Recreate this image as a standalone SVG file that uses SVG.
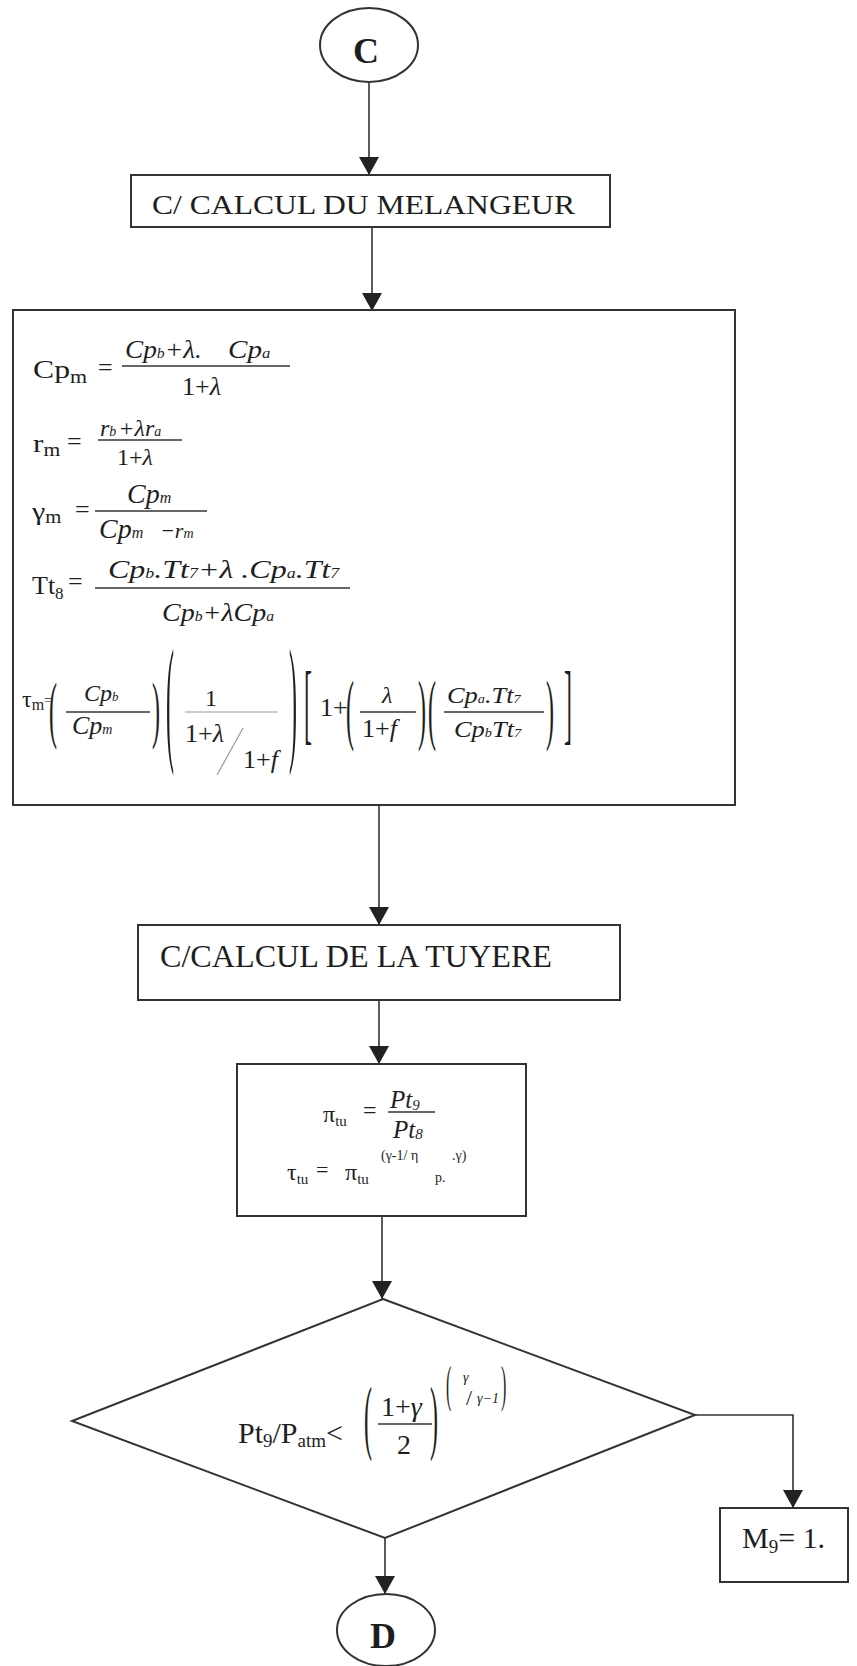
<svg xmlns="http://www.w3.org/2000/svg" width="857" height="1666" viewBox="0 0 857 1666" font-family="'Liberation Serif', 'DejaVu Serif', serif">
<style>
.t{font-family:"Liberation Serif","DejaVu Serif",serif;fill:#1e1e1e}
.i{font-style:italic}
.b{font-weight:bold}
.box{fill:#fff;stroke:#333;stroke-width:2}
.bar{stroke:#333;stroke-width:1.3}
.gbar{stroke:#9a9a9a;stroke-width:1.2}
.con{fill:none;stroke:#333;stroke-width:1.6}
</style>
<defs>
<marker id="ah" viewBox="0 0 18 20" markerWidth="18" markerHeight="20" refX="18" refY="10" orient="auto" markerUnits="userSpaceOnUse">
<path d="M0,0 L18,10 L0,20 z" fill="#222"/>
</marker>
</defs>
<rect width="857" height="1666" fill="#fff"/>

<g id="connectors">
<path class="con" d="M369,82 V175" marker-end="url(#ah)"/>
<path class="con" d="M372,227 V311" marker-end="url(#ah)"/>
<path class="con" d="M379,805 V925" marker-end="url(#ah)"/>
<path class="con" d="M379,1000 V1064" marker-end="url(#ah)"/>
<path class="con" d="M382,1216 V1299" marker-end="url(#ah)"/>
<path class="con" d="M695,1415 H793 V1508" marker-end="url(#ah)"/>
<path class="con" d="M385,1538 V1594" marker-end="url(#ah)"/>
</g>

<g id="start-C">
<ellipse class="box" cx="369" cy="45" rx="49" ry="37" stroke-width="1.6"/>
<text class="t b" x="366" y="63" font-size="36" text-anchor="middle">C</text>
</g>

<g id="melangeur-title">
<rect class="box" x="131" y="175" width="479" height="52"/>
<text class="t" x="152" y="214" font-size="28" textLength="423" lengthAdjust="spacingAndGlyphs">C/ CALCUL DU MELANGEUR</text>
</g>

<g id="melangeur-formulas">
<rect class="box" x="13" y="310" width="722" height="495"/>
<!-- Cp_m -->
<text class="t" transform="translate(33,378) scale(1.22,1)" font-size="26">Cp<tspan font-size="18" dy="5">m</tspan></text>
<text class="t" x="98" y="376" font-size="26">=</text>
<text class="t i" transform="translate(125,358) scale(1.05,1)" font-size="26">Cp<tspan font-size="15">b</tspan><tspan>+λ.</tspan></text>
<text class="t i" transform="translate(228,358) scale(1.12,1)" font-size="26">Cp<tspan font-size="15">a</tspan></text>
<line class="bar" x1="122" y1="366" x2="290" y2="366"/>
<text class="t" x="182" y="395" font-size="26">1+<tspan class="i">λ</tspan></text>
<!-- r_m -->
<text class="t" transform="translate(33,452) scale(1.2,1)" font-size="26">r<tspan font-size="18" dy="4">m</tspan></text>
<text class="t" x="67" y="450" font-size="26">=</text>
<text class="t i" x="100" y="436" font-size="24">r<tspan font-size="14">b</tspan><tspan dx="2">+</tspan><tspan>λr</tspan><tspan font-size="14">a</tspan></text>
<line class="bar" x1="98" y1="440" x2="182" y2="440"/>
<text class="t" x="117" y="465" font-size="24">1+<tspan class="i">λ</tspan></text>
<!-- gamma_m -->
<text class="t" transform="translate(32,520) scale(1.15,1)" font-size="26">γ<tspan font-size="18" dy="3">m</tspan></text>
<text class="t" x="75" y="518" font-size="26">=</text>
<text class="t i" x="127" y="503" font-size="28">Cp<tspan font-size="16">m</tspan></text>
<line class="bar" x1="95" y1="511" x2="207" y2="511"/>
<text class="t i" x="99" y="538" font-size="28">Cp<tspan font-size="16">m</tspan></text>
<text class="t i" x="160" y="538" font-size="22">−r<tspan font-size="14">m</tspan></text>
<!-- Tt_8 -->
<text class="t" x="32" y="594" font-size="26">Tt<tspan font-size="17" dy="5">8</tspan></text>
<text class="t" x="68" y="590" font-size="26">=</text>
<text class="t i" transform="translate(108,578) scale(1.28,1)" font-size="25">Cp<tspan font-size="14">b</tspan>.Tt<tspan font-size="14">7</tspan>+λ .Cp<tspan font-size="14">a</tspan>.Tt<tspan font-size="14">7</tspan></text>
<line class="bar" x1="95" y1="588" x2="350" y2="588"/>
<text class="t i" transform="translate(162,621) scale(1.12,1)" font-size="25">Cp<tspan font-size="14">b</tspan>+λCp<tspan font-size="14">a</tspan></text>
<!-- tau_m -->
<text class="t" x="22" y="707" font-size="24">τ<tspan font-size="16" dy="3">m</tspan></text>
<text class="t" x="44" y="705" font-size="14">=</text>
<text class="t" transform="translate(49,733.8) scale(1,3.07)" font-size="24">(</text>
<text class="t i" x="84" y="701" font-size="24">Cp<tspan font-size="13">b</tspan></text>
<line class="bar" x1="66" y1="712" x2="150" y2="712"/>
<text class="t i" x="72" y="734" font-size="26">Cp<tspan font-size="14">m</tspan></text>
<text class="t" transform="translate(152,733.8) scale(1,3.07)" font-size="24">)</text>
<text class="t" transform="translate(166,746.3) scale(1,5.81)" font-size="24">(</text>
<text class="t" x="205" y="706" font-size="24">1</text>
<line class="gbar" x1="185" y1="712" x2="278" y2="712"/>
<text class="t" x="185" y="742" font-size="26">1+<tspan class="i">λ</tspan></text>
<line class="gbar" x1="217" y1="775" x2="243" y2="728"/>
<text class="t" x="243" y="768" font-size="26">1+<tspan class="i">f</tspan></text>
<text class="t" transform="translate(289,746.3) scale(1,5.81)" font-size="24">)</text>
<text class="t" transform="translate(304,732.6) scale(1,3.66)" font-size="24">[</text>
<text class="t" x="320" y="716" font-size="26">1+</text>
<text class="t" transform="translate(346,734.6) scale(1,3.3)" font-size="24">(</text>
<text class="t i" x="382" y="703" font-size="24">λ</text>
<line class="bar" x1="360" y1="712" x2="416" y2="712"/>
<text class="t" x="362" y="737" font-size="26">1+<tspan class="i">f</tspan></text>
<text class="t" transform="translate(418,734.6) scale(1,3.3)" font-size="24">)</text>
<text class="t" transform="translate(428,734.6) scale(1,3.3)" font-size="24">(</text>
<text class="t i" transform="translate(447,703) scale(1.1,1)" font-size="24">Cp<tspan font-size="13">a</tspan>.Tt<tspan font-size="13">7</tspan></text>
<line class="bar" x1="444" y1="712" x2="544" y2="712"/>
<text class="t i" transform="translate(454,737) scale(1.1,1)" font-size="24">Cp<tspan font-size="13">b</tspan>Tt<tspan font-size="13">7</tspan></text>
<text class="t" transform="translate(546,734.6) scale(1,3.3)" font-size="24">)</text>
<text class="t" transform="translate(564,732.6) scale(1,3.66)" font-size="24">]</text>
</g>

<g id="tuyere-title">
<rect class="box" x="138" y="925" width="482" height="75"/>
<text class="t" x="160" y="967" font-size="31" textLength="392" lengthAdjust="spacingAndGlyphs">C/CALCUL DE LA TUYERE</text>
</g>

<g id="tuyere-formulas">
<rect class="box" x="237" y="1064" width="289" height="152"/>
<text class="t" x="323" y="1122" font-size="24">π<tspan font-size="15" dy="4">tu</tspan></text>
<text class="t" x="363" y="1118" font-size="24">=</text>
<text class="t i" x="390" y="1108" font-size="25">Pt<tspan font-size="15" dy="2">9</tspan></text>
<line class="bar" x1="388" y1="1112" x2="435" y2="1112"/>
<text class="t i" x="393" y="1138" font-size="25">Pt<tspan font-size="15" dy="1">8</tspan></text>
<text class="t" x="287" y="1180" font-size="24">τ<tspan font-size="15" dy="4">tu</tspan></text>
<text class="t" x="316" y="1177" font-size="22">=</text>
<text class="t" x="345" y="1180" font-size="24">π<tspan font-size="15" dy="4">tu</tspan></text>
<text class="t" x="381" y="1160" font-size="14">(γ-1/ η</text>
<text class="t" x="435" y="1182" font-size="14">p.</text>
<text class="t" x="452" y="1160" font-size="14"> .γ)</text>
</g>

<g id="decision">
<polygon class="box" points="383,1299 695,1415 385,1538 72,1421"/>
<text class="t" x="238" y="1443" font-size="30">Pt<tspan font-size="19" dy="4">9</tspan><tspan font-size="30" dy="-4">/P</tspan><tspan font-size="19" dy="4">atm</tspan><tspan font-size="30" dy="-4">&lt;</tspan></text>
<text class="t" transform="translate(364,1443.8) scale(1,3.43)" font-size="24">(</text>
<text class="t" x="381" y="1416" font-size="28">1+<tspan class="i">γ</tspan></text>
<line class="bar" x1="378" y1="1424" x2="432" y2="1424"/>
<text class="t" x="397" y="1454" font-size="28">2</text>
<text class="t" transform="translate(430,1443.8) scale(1,3.43)" font-size="24">)</text>
<text class="t" transform="translate(446,1400.8) scale(1,3.2)" font-size="16">(</text>
<text class="t i" x="463" y="1382" font-size="14">γ</text>
<text class="t" x="466" y="1405" font-size="22" fill="#888">/</text>
<text class="t i" x="477" y="1403" font-size="14">γ−1</text>
<text class="t" transform="translate(501,1400.8) scale(1,3.2)" font-size="16">)</text>
</g>

<g id="mach-one">
<rect class="box" x="720" y="1508" width="128" height="74"/>
<text class="t" x="742" y="1548" font-size="30">M<tspan font-size="19" dy="5">9</tspan><tspan font-size="30" dy="-5">= 1.</tspan></text>
</g>

<g id="end-D">
<ellipse class="box" cx="386" cy="1630" rx="49" ry="36" stroke-width="1.6"/>
<text class="t b" x="383" y="1648" font-size="36" text-anchor="middle">D</text>
</g>
</svg>
